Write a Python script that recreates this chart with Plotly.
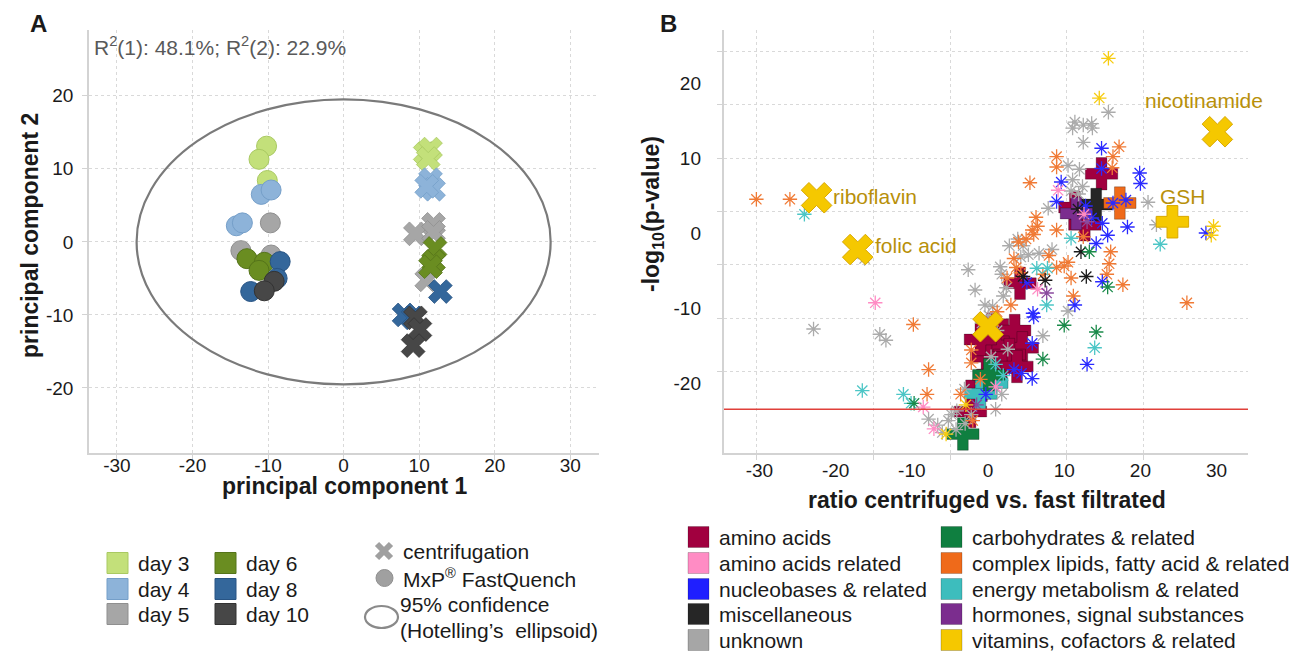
import plotly.graph_objects as go

# page is offset by the default 8px body margin; figure is sized to fit the 1308x651 window
OFF = 8
W, H = 1300, 643

# ---------------- Panel A data (PCA scores) ----------------
days = ["day 3", "day 4", "day 5", "day 6", "day 8", "day 10"]
day_colors = ["#c3e07a", "#8db3d9", "#a6a6a6", "#6a8d21", "#34679b", "#474747"]
day_edges = ["#a9c962", "#759fc9", "#8f8f8f", "#55741a", "#285484", "#333333"]

fq_pc1 = [[-10.2, -11.2, -10.1], [-10.9, -9.6, -14.2, -13.4], [-9.7, -13.6, -9.6],
          [-12.8, -10.5, -11.2], [-8.4, -8.8, -12.3], [-9.2, -10.5]]
fq_pc2 = [[13.1, 11.3, 8.4], [6.5, 7.1, 2.2, 2.6], [2.6, -1.2, -1.8],
          [-2.3, -2.8, -3.9], [-2.7, -5.0, -6.8], [-5.4, -6.7]]
cf_pc1 = [[10.8, 11.5, 11.2], [11.5, 11.9, 11.0], [11.9, 9.5, 11.9, 11.0],
          [12.1, 11.9, 11.5], [12.8, 8.0, 9.2], [9.5, 10.1, 9.2]]
cf_pc2 = [[12.1, 12.7, 11.4], [8.5, 7.2, 7.6], [2.4, 1.1, 1.3, -5.2],
          [-0.9, -2.7, -3.4], [-6.8, -10.0, -10.4], [-10.4, -12.0, -14.2]]
ellipse_a, ellipse_b = 27.4, 19.5
r2_text = "R<sup>2</sup>(1): 48.1%; R<sup>2</sup>(2): 22.9%"
a_ticks = [-30, -20, -10, 0, 10, 20, 30]
a_yticks = [-20, -10, 0, 10, 20]

# ---------------- Panel B data (ratio vs -log10 p) ----------------
categories = ["amino acids", "amino acids related", "nucleobases & related", "miscellaneous", "unknown",
              "carbohydrates & related", "complex lipids, fatty acid & related", "energy metabolism & related",
              "hormones, signal substances", "vitamins, cofactors & related"]
cat_colors = ["#a1003f", "#ff8cc4", "#1f1fff", "#262626", "#a6a6a6",
              "#0f7f40", "#ef6a1a", "#3dbdbd", "#7b2d8e", "#f5c800"]
ast_colors = ["#a1003f", "#ff8cc4", "#2a2aff", "#1a1a1a", "#ababab",
              "#1a8a4a", "#f07a35", "#4cc6c6", "#8a4a9e", "#f7cc10"]

unknown_x = [15.8, 11.1, 12.5, 13.7, 12.5, 11.4, 13.6, 10.5, 12.0, 11.1, 10.9, 11.9, 12.4, 7.9,
             21.0, 22.1, 2.8, 3.9, 4.6, 4.3, 5.3, 6.7, 8.4, 1.8, 2.0, 0.1, 1.6, 2.4, -2.6, -1.7, -0.4, 0.6,
             -16.2, -22.9, -14.2, -13.4, 7.2, 10.5, -3.1, -4.1, 1.0, 1.8, -0.8, 1.2, 2.6, 0.4,
             -7.8, -6.6, -5.2, -4.2, -3.0, -6.0, -2.2, -4.8]
unknown_y = [16.1, 14.0, 14.4, 14.0, 12.1, 14.8, 14.6, 9.0, 8.5, 7.1, 5.6, 5.2, 6.2, 3.3,
             4.1, 1.1, -1.7, -0.8, -1.7, -3.2, -2.9, -2.7, -2.2, -5.5, -8.4, -11.0, -4.5, -7.3, -4.9, -7.6, -9.6, -9.8,
             -3.4, -12.8, -13.5, -14.3, -13.7, -10.4, -20.8, -23.7, -23.5, -21.5, -12.0, -13.0, -15.5, -16.5,
             -24.8, -25.6, -25.0, -26.2, -25.4, -26.6, -24.2, -24.2]
lipid_x = [-30.4, -26.0, -9.8, -7.8, -8.0, -2.0, 9.0, 9.0, 17.2, 16.3, 16.4, 5.5,
           6.3, 5.8, 6.0, 6.5, 9.0, 5.0, 4.0, 16.1, 17.7, 15.9, 15.6, 10.9, 11.2, 10.5, 9.0, 10.0,
           3.4, 3.7, 4.3, 2.5, 26.1, 7.2, 8.0, 3.0, 1.2, -2.2, -2.2, -1.0, -3.6, 0.8, 12.5]
lipid_y = [4.5, 4.5, -12.2, -18.2, -21.5, -25.0, 10.2, 8.8, 11.5, 8.7, 10.2, 6.7,
           2.1, 0.4, -0.2, 0.9, 0.4, -0.8, -1.2, -2.5, -6.9, -4.1, -5.5, -6.0, -8.4, -3.9, -4.6, -4.4,
           -3.4, -4.6, -5.3, -6.0, -9.3, -5.5, -3.0, -9.6, -10.5, -15.6, -17.3, -19.5, -21.5, -11.8, -0.5]
nucleo_x = [14.9, 14.9, 19.9, 20.0, 9.6, 9.0, 16.4, 18.1, 15.0, 18.3, 15.7, 14.2, 12.8, 13.6,
            5.1, 15.0, 11.4, 5.9, 6.0, 5.8, 5.8, 4.4, 3.4, 13.0, -0.3, 28.6]
nucleo_y = [11.3, 8.6, 8.0, 6.6, 6.8, 4.2, 4.0, 4.4, 1.3, 0.8, -0.3, -1.4, 3.6, 2.0,
            -6.6, -6.5, -9.6, -10.7, -11.2, -14.7, -19.4, -18.7, -18.2, -17.5, -21.5, 0.0]
misc_x = [12.2, 4.6, 7.5, 12.9, 11.8]
misc_y = [-2.5, -5.8, -6.3, -5.8, 3.2]
energy_x = [-24.1, 22.6, 10.9, 6.4, 7.8, 7.7, 14.0, -16.5, -11.1, -10.1, 2.0, 1.0]
energy_y = [2.5, -1.5, -0.7, -4.7, -4.7, -9.6, -15.3, -21.0, -21.5, -22.7, -19.0, -17.5]
carb_x = [13.3, 15.7, 10.0, 7.2, 14.2, -9.7]
carb_y = [-2.5, -7.2, -12.3, -16.8, -13.2, -22.7]
aarel_x = [-14.8, 9.2, -8.5, -7.1, 6.5, 12.6, 1.0]
aarel_y = [-9.3, 5.7, -23.2, -26.1, -7.5, 2.5, -20.5]
hormone_x = [7.7, -1.5, 13.0]
hormone_y = [-8.0, -22.9, 1.5]
vitamin_x = [15.8, 14.6, 29.6, 29.3, -5.5, -2.9]
vitamin_y = [23.3, 18.0, 0.9, -0.3, -26.8, -22.9]

# large markers
aa_big_x = [14.9, 11.4, 12.7, 4.2, 0.5, 2.0, 3.5, 4.5, 1.0, 2.8, -0.2, 1.8, 0.3, -1.0, 3.8, -0.8, -2.3]
aa_big_y = [7.9, 3.4, 1.1, -6.7, -12.8, -13.6, -13.0, -15.3, -15.0, -16.2, -16.5, -18.0, -19.5, -14.2, -17.8, -20.3, -23.8]
misc_big_x, misc_big_y = [14.2], [3.8]
lipid_big_x, lipid_big_y = [17.3], [4.0]
hormone_big_x, hormone_big_y = [11.6], [2.6]
energy_big_x, energy_big_y = [-1.0, 0.5], [-21.4, -20.0]
carb_big_x, carb_big_y = [0.1, -3.3], [-18.9, -26.8]
vit_xmark_x = [-22.5, -17.1, 30.1, 0.0]
vit_xmark_y = [4.7, -2.2, 13.5, -12.5]
gsh_x, gsh_y = [24.2], [1.5]
label_names = ["riboflavin", "folic acid", "nicotinamide", "GSH"]
label_x = [-20.6, -15.1, 20.3, 22.3]
label_y = [4.9, -1.6, 17.7, 4.9]
threshold_y = -23.5

b_xtick_vals = [-30, -20, -10, 0, 10, 20, 30]
b_ytick_vals = [-20, -10, 0, 10, 20]
b_xgrid = [-30.4, -15.05, -4.93, 10.3, 20.35]
b_ygrid = [24.22, 17.11, 10.0, 2.89, -4.22, -11.33, -18.44]

# ---------------- figure ----------------
FONT = "Arial, Liberation Sans, sans-serif"
TICK = 19
LEG = 21
fig = go.Figure()

def px(x): return (x - OFF) / W
def py(y): return 1 - (y - OFF) / H
def lab(v): return [str(t) for t in v]

# Panel A traces
for i, d in enumerate(days):
    fig.add_trace(go.Scatter(x=fq_pc1[i], y=fq_pc2[i], mode="markers", xaxis="x", yaxis="y",
                             marker=dict(symbol="circle", size=20, color=day_colors[i],
                                         line=dict(color=day_edges[i], width=1)),
                             showlegend=False, hoverinfo="skip"))
for i, d in enumerate(days):
    fig.add_trace(go.Scatter(x=cf_pc1[i], y=cf_pc2[i], mode="markers", xaxis="x", yaxis="y",
                             marker=dict(symbol="x", size=21, color=day_colors[i],
                                         line=dict(color=day_edges[i], width=0.8)),
                             showlegend=False, hoverinfo="skip"))

# Panel B large markers
def big(xs, ys, ci, sym="cross", size=27):
    fig.add_trace(go.Scatter(x=xs, y=ys, mode="markers", xaxis="x2", yaxis="y2",
                             marker=dict(symbol=sym, size=size, color=cat_colors[ci],
                                         line=dict(color="rgba(0,0,0,0.25)", width=1)),
                             showlegend=False, hoverinfo="skip"))

big(aa_big_x, aa_big_y, 0)
big(misc_big_x, misc_big_y, 3)
big(lipid_big_x, lipid_big_y, 6)
big(hormone_big_x, hormone_big_y, 8)
big(energy_big_x, energy_big_y, 7)
big(carb_big_x, carb_big_y, 5)

# asterisks
def ast(xs, ys, ci):
    c = ast_colors[ci]
    fig.add_trace(go.Scatter(x=xs, y=ys, mode="markers", xaxis="x2", yaxis="y2",
                             marker=dict(symbol="asterisk-open", size=12, color=c,
                                         line=dict(color=c, width=1.3)),
                             showlegend=False, hoverinfo="skip"))

ast(unknown_x, unknown_y, 4)
ast(lipid_x, lipid_y, 6)
ast(nucleo_x, nucleo_y, 2)
ast(misc_x, misc_y, 3)
ast(energy_x, energy_y, 7)
ast(carb_x, carb_y, 5)
ast(aarel_x, aarel_y, 1)
ast(hormone_x, hormone_y, 8)
ast(vitamin_x, vitamin_y, 9)

# vitamins big markers on top
fig.add_trace(go.Scatter(x=vit_xmark_x, y=vit_xmark_y, mode="markers", xaxis="x2", yaxis="y2",
                         marker=dict(symbol="x", size=27, color=cat_colors[9],
                                     line=dict(color="#d9a800", width=1)),
                         showlegend=False, hoverinfo="skip"))
fig.add_trace(go.Scatter(x=gsh_x, y=gsh_y, mode="markers", xaxis="x2", yaxis="y2",
                         marker=dict(symbol="cross", size=27, color=cat_colors[9],
                                     line=dict(color="#d9a800", width=1)),
                         showlegend=False, hoverinfo="skip"))
# dummy trace for overlay label axes
fig.add_trace(go.Scatter(x=[None], y=[None], xaxis="x4", yaxis="y4", showlegend=False))

tickfont = dict(family=FONT, size=TICK, color="#1a1a1a")
axcommon = dict(showline=True, linecolor="#d3d3d3", linewidth=1.5, gridcolor="#d9d9d9",
                griddash="dot", gridwidth=1, zeroline=False, ticks="outside", ticklen=5,
                tickcolor="#d3d3d3", tickwidth=1, tickfont=tickfont)

dom_y = [py(453), py(30)]
fig.update_layout(
    width=W, height=H, margin=dict(l=0, r=0, t=0, b=0),
    paper_bgcolor="white", plot_bgcolor="rgba(0,0,0,0)", showlegend=False,
    xaxis=dict(domain=[px(89), px(599)], range=[-33.7, 33.8], tickvals=a_ticks, ticktext=lab(a_ticks),
               anchor="y", ticklabelstandoff=-11, **axcommon),
    yaxis=dict(domain=dom_y, range=[-28.9, 29.0], tickvals=a_yticks, ticktext=lab(a_yticks),
               anchor="x", ticklabelstandoff=5, **axcommon),
    xaxis2=dict(domain=[px(724), px(1248)], range=[-34.65, 34.12], tickvals=b_xgrid,
                showticklabels=False, anchor="y2", **axcommon),
    yaxis2=dict(domain=dom_y, range=[-29.33, 27.07], tickvals=b_ygrid,
                showticklabels=False, anchor="x2", **axcommon),
    xaxis4=dict(overlaying="x2", anchor="y2", range=[-34.65, 34.12], tickvals=b_xtick_vals,
                ticktext=lab(b_xtick_vals), showgrid=False, showline=False, zeroline=False,
                ticks="", tickfont=tickfont, ticklabelstandoff=4),
    yaxis4=dict(overlaying="y2", anchor="x2", range=[-29.33, 27.07], tickvals=b_ytick_vals,
                ticktext=lab(b_ytick_vals), showgrid=False, showline=False, zeroline=False,
                ticks="", tickfont=tickfont, ticklabelstandoff=22),
)

shapes = []
annotations = []

# ellipse (Hotelling's T2)
shapes.append(dict(type="circle", xref="x", yref="y", x0=-ellipse_a, x1=ellipse_a,
                   y0=-ellipse_b, y1=ellipse_b, line=dict(color="#7a7a7a", width=2.2)))
# threshold line
shapes.append(dict(type="line", xref="x2 domain", yref="y2", x0=0, x1=1, y0=threshold_y, y1=threshold_y,
                   line=dict(color="#e0403a", width=1.5)))

def text(x, y, s, size=LEG, color="#1a1a1a", xanchor="left", angle=0, bold=False, yanchor="middle"):
    annotations.append(dict(x=px(x), y=py(y), xref="paper", yref="paper", text=(f"<b>{s}</b>" if bold else s),
                            showarrow=False, xanchor=xanchor, yanchor=yanchor, textangle=angle,
                            font=dict(family=FONT, size=size, color=color)))

# panel letters and titles
text(38, 8, "A", size=24, bold=True, xanchor="center", yanchor="top")
text(668, 8, "B", size=24, bold=True, xanchor="center", yanchor="top")
text(92, 46, r2_text, size=21, color="#595959")
text(345, 486, "principal component 1", size=23, bold=True, xanchor="center")
text(30, 236, "principal component 2", size=23, bold=True, xanchor="center", angle=-90)
text(987, 500, "ratio centrifuged vs. fast filtrated", size=23, bold=True, xanchor="center")
text(652, 214, "-log<sub>10</sub>(p-value)", size=23, bold=True, xanchor="center", angle=-90)

# metabolite labels
for n, lx, ly in zip(label_names, label_x, label_y):
    annotations.append(dict(x=lx, y=ly, xref="x2", yref="y2", text=n, showarrow=False,
                            xanchor="left", yanchor="middle",
                            font=dict(family=FONT, size=21, color="#b8900a")))

# legend A (days)
row_y = [563, 589, 614]
for i, d in enumerate(days):
    col = i // 3
    r = i % 3
    bx = 107 if col == 0 else 215
    shapes.append(dict(type="rect", xref="paper", yref="paper", x0=px(bx), x1=px(bx + 21),
                       y0=py(row_y[r] + 10.5), y1=py(row_y[r] - 10.5), fillcolor=day_colors[i],
                       line=dict(color=day_edges[i], width=1)))
    text(bx + 29, row_y[r], d)

# legend A (methods)
gx, gy = 384, 551
shapes.append(dict(type="line", xref="paper", yref="paper", x0=px(gx - 7), x1=px(gx + 7),
                   y0=py(gy - 7), y1=py(gy + 7), line=dict(color="#a0a0a0", width=6)))
shapes.append(dict(type="line", xref="paper", yref="paper", x0=px(gx - 7), x1=px(gx + 7),
                   y0=py(gy + 7), y1=py(gy - 7), line=dict(color="#a0a0a0", width=6)))
shapes.append(dict(type="circle", xref="paper", yref="paper", x0=px(376), x1=px(393),
                   y0=py(586.5), y1=py(569.5), fillcolor="#a0a0a0", line=dict(color="#909090", width=1)))
shapes.append(dict(type="circle", xref="paper", yref="paper", x0=px(365), x1=px(398),
                   y0=py(628), y1=py(606), line=dict(color="#8a8a8a", width=2.2)))
text(401, 551, "centrifugation")
text(401, 578, "MxP<sup>®</sup> FastQuench")
text(398, 604, "95% confidence")
text(398, 630, "(Hotelling’s  ellipsoid)")

# legend B (categories)
brow_y = [537, 563, 589, 614, 640]
for i, c in enumerate(categories):
    col = i // 5
    r = i % 5
    bx = 688 if col == 0 else 941
    shapes.append(dict(type="rect", xref="paper", yref="paper", x0=px(bx), x1=px(bx + 21),
                       y0=py(brow_y[r] + 10.5), y1=py(brow_y[r] - 10.5), fillcolor=cat_colors[i],
                       line=dict(color="rgba(0,0,0,0.2)", width=1)))
    text(bx + 29, brow_y[r], c)

fig.update_layout(shapes=shapes, annotations=annotations)
fig.write_html("out.html")
